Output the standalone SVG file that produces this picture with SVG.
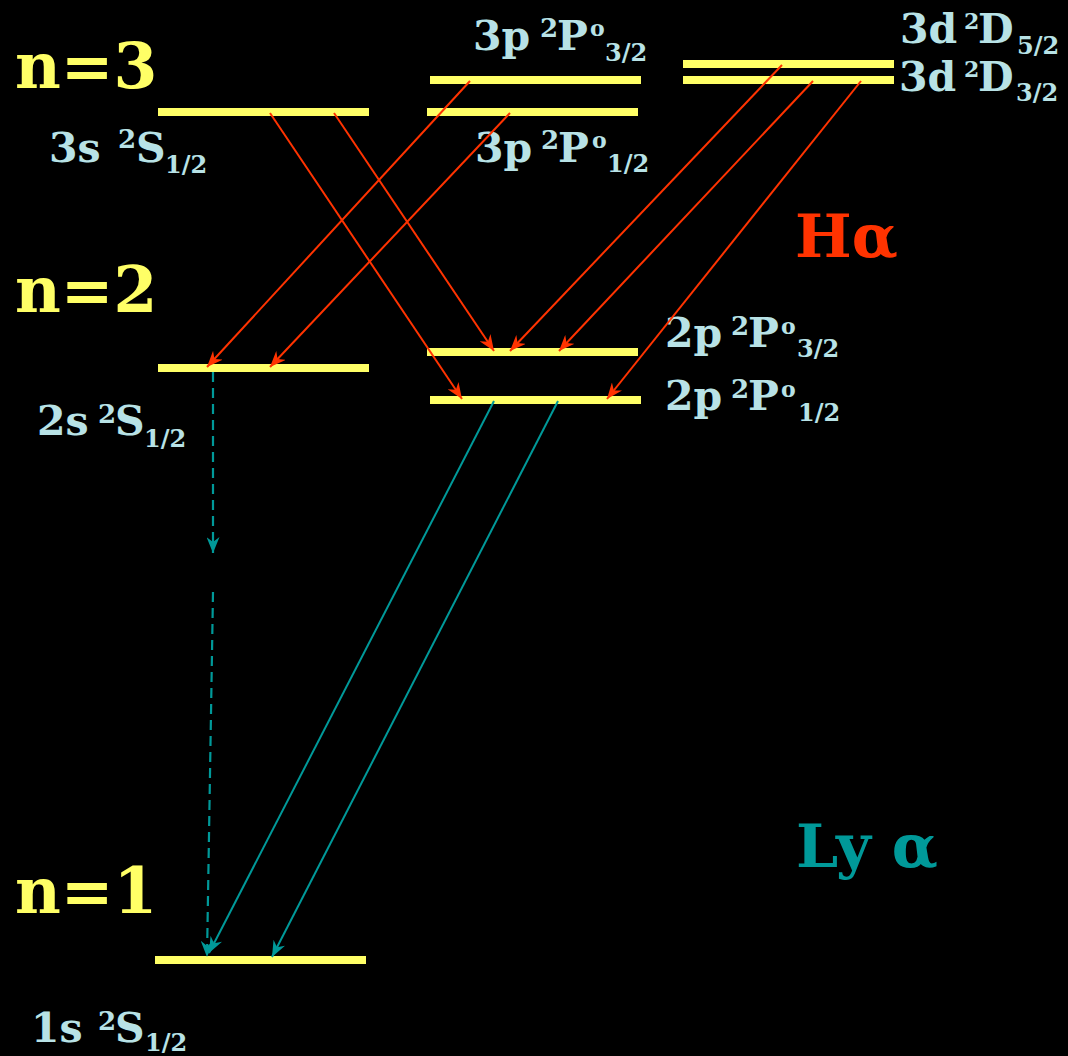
<svg xmlns="http://www.w3.org/2000/svg" width="1068" height="1056" viewBox="0 0 1068 1056">
<style>
.lvl{stroke:#ffff66;stroke-width:8;}
.n{font-family:"DejaVu Serif",serif;font-weight:bold;font-size:63px;fill:#ffff66;}
.lb{font-family:"DejaVu Serif",serif;font-weight:bold;font-size:41px;fill:#b8e2e6;}
.s{font-size:26px;}
.b{font-size:24px;}
.o{font-size:22px;}
.d{font-size:22px;}
.ha{stroke:#ff3300;stroke-width:2;fill:none;marker-end:url(#ar);}
.ly{stroke:#009999;stroke-width:2;fill:none;marker-end:url(#at);}
.dash{stroke-dasharray:10,6;stroke-width:2.2;}
.big{font-family:"DejaVu Serif",serif;font-weight:bold;font-size:60px;}
</style>
<defs>
<marker id="ar" markerUnits="userSpaceOnUse" markerWidth="16" markerHeight="13" viewBox="0 0 16 13" refX="16" refY="6.5" orient="auto"><path d="M0,0 L16,6.5 L0,13 L5,6.5 Z" fill="#ff3300"/></marker>
<marker id="at" markerUnits="userSpaceOnUse" markerWidth="16" markerHeight="13" viewBox="0 0 16 13" refX="16" refY="6.5" orient="auto"><path d="M0,0 L16,6.5 L0,13 L5,6.5 Z" fill="#009999"/></marker>
</defs>
<rect width="1068" height="1056" fill="#000"/>
<text class="n" x="15" y="88">n=3</text>
<text class="n" x="15" y="312">n=2</text>
<text class="n" x="15" y="913">n=1</text>
<g id="level-3s">
<line class="lvl" x1="158" y1="112" x2="369" y2="112"/>
<text class="lb"><tspan x="49" y="162">3s</tspan><tspan class="s" x="118" y="148">2</tspan><tspan x="136" y="162">S</tspan><tspan class="b" x="165" y="173">1/2</tspan></text>
</g>
<g id="level-3p32">
<line class="lvl" x1="430" y1="80" x2="641" y2="80"/>
<text class="lb"><tspan x="473" y="50">3p</tspan><tspan class="s" x="540" y="37">2</tspan><tspan x="557" y="50">P</tspan><tspan class="o" x="590" y="36">o</tspan><tspan class="b" x="605" y="61">3/2</tspan></text>
</g>
<g id="level-3p12">
<line class="lvl" x1="427" y1="112" x2="638" y2="112"/>
<text class="lb"><tspan x="475" y="162">3p</tspan><tspan class="s" x="541" y="149">2</tspan><tspan x="558" y="162">P</tspan><tspan class="o" x="592" y="148">o</tspan><tspan class="b" x="607" y="172">1/2</tspan></text>
</g>
<g id="level-3d52">
<line class="lvl" x1="683" y1="64" x2="894" y2="64"/>
<text class="lb"><tspan x="900" y="43">3d</tspan><tspan class="d" x="964" y="29">2</tspan><tspan x="978" y="43">D</tspan><tspan class="b" x="1017" y="54">5/2</tspan></text>
</g>
<g id="level-3d32">
<line class="lvl" x1="683" y1="80" x2="894" y2="80"/>
<text class="lb"><tspan x="899" y="91">3d</tspan><tspan class="d" x="964" y="77">2</tspan><tspan x="978" y="91">D</tspan><tspan class="b" x="1016" y="101">3/2</tspan></text>
</g>
<g id="level-2s">
<line class="lvl" x1="158" y1="368" x2="369" y2="368"/>
<text class="lb"><tspan x="37" y="435">2s</tspan><tspan class="s" x="98" y="423">2</tspan><tspan x="115" y="435">S</tspan><tspan class="b" x="144" y="447">1/2</tspan></text>
</g>
<g id="level-2p32">
<line class="lvl" x1="427" y1="352" x2="638" y2="352"/>
<text class="lb"><tspan x="665" y="347">2p</tspan><tspan class="s" x="731" y="335">2</tspan><tspan x="748" y="347">P</tspan><tspan class="o" x="781" y="334">o</tspan><tspan class="b" x="797" y="357">3/2</tspan></text>
</g>
<g id="level-2p12">
<line class="lvl" x1="430" y1="400" x2="641" y2="400"/>
<text class="lb"><tspan x="665" y="410">2p</tspan><tspan class="s" x="731" y="398">2</tspan><tspan x="748" y="410">P</tspan><tspan class="o" x="781" y="397">o</tspan><tspan class="b" x="798" y="421">1/2</tspan></text>
</g>
<g id="level-1s">
<line class="lvl" x1="155" y1="960" x2="366" y2="960"/>
<text class="lb"><tspan x="31" y="1042">1s</tspan><tspan class="s" x="98" y="1030">2</tspan><tspan x="115" y="1042">S</tspan><tspan class="b" x="145" y="1051">1/2</tspan></text>
</g>
<g id="connectors">
<line class="ha" x1="270" y1="113" x2="462" y2="399"/>
<line class="ha" x1="334" y1="113" x2="494" y2="351"/>
<line class="ha" x1="470" y1="81" x2="207" y2="367"/>
<line class="ha" x1="510" y1="113" x2="270" y2="367"/>
<line class="ha" x1="782" y1="65" x2="510" y2="351"/>
<line class="ha" x1="813" y1="81" x2="559" y2="351"/>
<line class="ha" x1="861" y1="81" x2="607" y2="399"/>
<line class="ly dash" x1="213" y1="372" x2="213" y2="553"/>
<line class="ly dash" x1="213" y1="592" x2="207" y2="957"/>
<line class="ly" x1="494" y1="401" x2="209" y2="953"/>
<line class="ly" x1="558" y1="401" x2="272" y2="957"/>
</g>
<text class="big" x="795" y="257" fill="#ff3300">Hα</text>
<text class="big" x="796" y="867" fill="#009999">Ly α</text>
</svg>
